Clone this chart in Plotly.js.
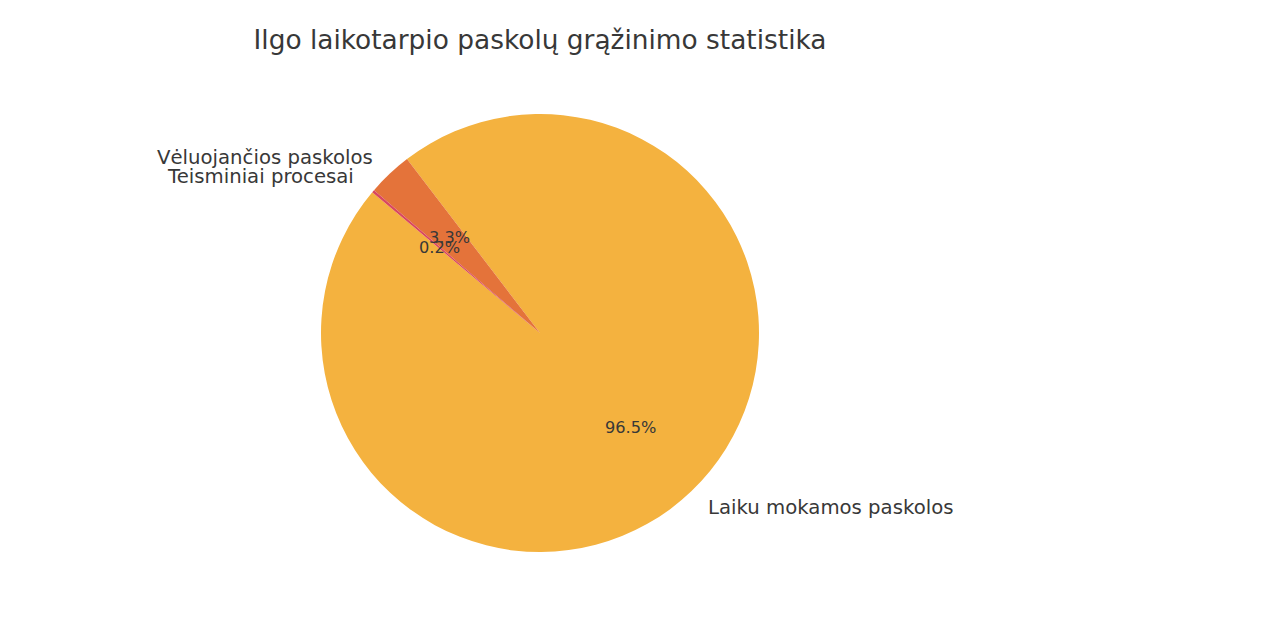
<!DOCTYPE html>
<html>
<head>
<meta charset="utf-8">
<script src="https://cdn.plot.ly/plotly-3.0.1.min.js"></script>
<style>
  html, body { margin: 0; padding: 0; background: #fff; }
  #chart { width: 1264px; height: 642px; }
</style>
</head>
<body>
<div id="chart"></div>
<script>
// Loan repayment shares.
const labels = ['Laiku mokamos paskolos', 'Vėluojančios paskolos', 'Teisminiai procesai'];
const values = [96.5, 3.3, 0.2];
const colors = ['#F4B23F', '#E4733A', '#D9475F'];

const W = 1264, H = 642;
const cx = 540, cy = 333, R = 219;   // pie centre and radius in pixels
const start_angle = 140;               // first slice starts here, counterclockwise
const text_color = '#383838';
const font_family = 'DejaVu Sans, sans-serif';

const total = values.reduce((a, b) => a + b, 0);

// plotly rotation is clockwise from 12 o'clock; convert from a matplotlib-style start angle
const first_span = 360 * values[0] / total;
let rotation = 90 - start_angle - first_span;
rotation = ((rotation % 360) + 540) % 360 - 180;

const to_paper = function (r, deg) {
    const a = deg * Math.PI / 180;
    return {
        x: (cx + r * Math.cos(a)) / W,
        y: 1 - (cy - r * Math.sin(a)) / H
    };
};

let annotations = [];
let cum = 0;
values.forEach((v, i) => {
    const mid = start_angle + 360 * (cum + v / 2) / total;
    cum += v;
    const lab = to_paper(R * 1.1, mid);
    const c = Math.cos(mid * Math.PI / 180);
    annotations.push({
        x: lab.x, y: lab.y, xref: 'paper', yref: 'paper',
        text: labels[i], showarrow: false,
        xanchor: c >= 0 ? 'left' : 'right', yanchor: 'middle',
        font: { family: font_family, size: 19.7, color: text_color }
    });
    const pct = to_paper(R * 0.6, mid);
    annotations.push({
        x: pct.x, y: pct.y, xref: 'paper', yref: 'paper',
        text: (100 * v / total).toFixed(1) + '%', showarrow: false,
        xanchor: 'center', yanchor: 'middle',
        font: { family: font_family, size: 16.2, color: text_color }
    });
});

const trace = {
    type: 'pie',
    labels: labels,
    values: values,
    sort: false,
    direction: 'counterclockwise',
    rotation: rotation,
    textinfo: 'none',
    hoverinfo: 'label+percent',
    marker: { colors: colors, line: { width: 0 } },
    domain: {
        x: [(cx - R) / W, (cx + R) / W],
        y: [1 - (cy + R) / H, 1 - (cy - R) / H]
    }
};

const layout = {
    width: W,
    height: H,
    margin: { l: 0, r: 0, t: 0, b: 0 },
    showlegend: false,
    paper_bgcolor: '#ffffff',
    title: {
        text: 'Ilgo laikotarpio paskolų grąžinimo statistika',
        x: cx / W, xanchor: 'center',
        y: 1 - 40 / H, yanchor: 'middle',
        yref: 'container', xref: 'container',
        font: { family: font_family, size: 26.4, color: text_color }
    },
    annotations: annotations
};

Plotly.newPlot('chart', [trace], layout, { displayModeBar: false, responsive: false });
</script>
</body>
</html>
